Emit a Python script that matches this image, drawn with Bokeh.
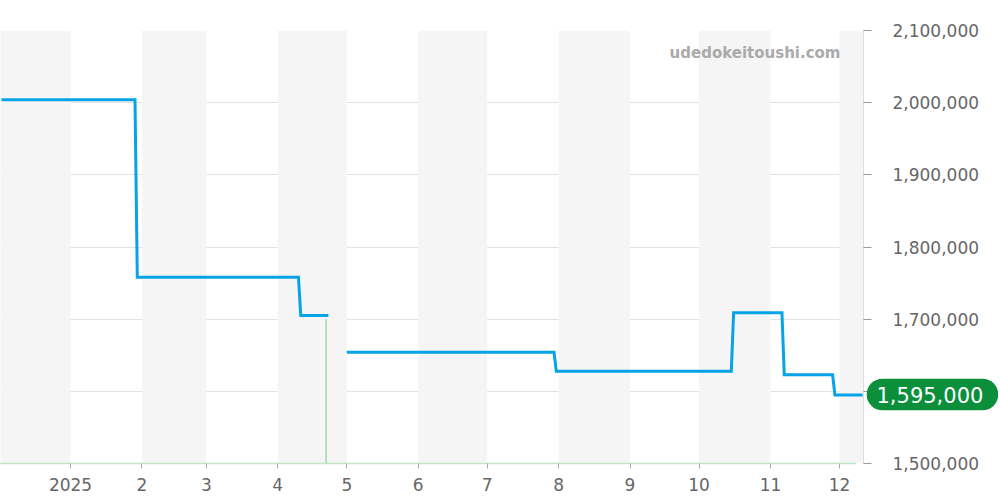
import pandas as pd
import numpy as np
from bokeh.plotting import figure
from bokeh.models import (Range1d, FixedTicker, NumeralTickFormatter, CustomJSTickFormatter,
                          BoxAnnotation, Label, LinearAxis)
from bokeh.embed import file_html
from bokeh.resources import INLINE

# ---- data ----
price_dates = ["2024-12-02", "2025-01-29", "2025-01-30", "2025-04-10", "2025-04-11", "2025-04-23",
               None,
               "2025-05-01", "2025-07-30", "2025-07-31", "2025-10-15", "2025-10-16",
               "2025-11-06", "2025-11-07", "2025-11-28", "2025-11-29", "2025-12-11"]
price_values = [2004000, 2004000, 1758000, 1758000, 1705000, 1705000,
                None,
                1654000, 1654000, 1628000, 1628000, 1709000,
                1709000, 1623000, 1623000, 1595000, 1595000]

volume_dates = ["2025-04-22"]
volume_values = [1700000]

month_ticks = ["2025-01-01", "2025-02-01", "2025-03-01", "2025-04-01", "2025-05-01", "2025-06-01",
               "2025-07-01", "2025-08-01", "2025-09-01", "2025-10-01", "2025-11-01", "2025-12-01"]
shaded_months = [("2024-12-01", "2025-01-01"), ("2025-02-01", "2025-03-01"), ("2025-04-01", "2025-05-01"),
                 ("2025-06-01", "2025-07-01"), ("2025-08-01", "2025-09-01"), ("2025-10-01", "2025-11-01"),
                 ("2025-12-01", "2026-01-01")]
y_ticks = [1500000, 1600000, 1700000, 1800000, 1900000, 2000000, 2100000]
last_price = 1595000
watermark = "udedokeitoushi.com"

x_start = pd.Timestamp("2024-12-01 14:00")
x_end = pd.Timestamp("2025-12-11 10:00")
y_start, y_end = 1500000, 2100000

def ms(d):
    return pd.Timestamp(d).value / 1e6

px = [ms(d) if d is not None else np.nan for d in price_dates]
py = [v if v is not None else np.nan for v in price_values]

FRAME_W, FRAME_H = 863, 433

p = figure(x_axis_type="datetime", y_axis_location="right",
           frame_width=FRAME_W, frame_height=FRAME_H,
           min_border_top=30, min_border_left=0, min_border_right=135, min_border_bottom=29,
           output_backend="svg", toolbar_location=None,
           x_range=Range1d(ms(x_start), ms(x_end)), y_range=Range1d(y_start, y_end))
p.outline_line_color = None
p.background_fill_color = "white"
p.border_fill_color = "white"

for a, b in shaded_months:
    p.add_layout(BoxAnnotation(left=ms(a), right=ms(b), fill_color="#f5f5f5", fill_alpha=1,
                               line_color=None, level="underlay"))

p.xgrid.grid_line_color = None
p.ygrid.grid_line_color = "#e2e2e2"
p.ygrid.grid_line_width = 1
p.ygrid.level = "underlay"

# y axis (right)
p.yaxis.ticker = FixedTicker(ticks=y_ticks)
p.yaxis.formatter = NumeralTickFormatter(format="0,0")
p.yaxis.axis_line_color = "#dddddd"
p.yaxis.major_tick_line_color = "#999999"
p.yaxis.major_tick_in = 0
p.yaxis.major_tick_out = 8
p.yaxis.minor_tick_line_color = None
p.yaxis.major_label_standoff = 21
p.yaxis.major_label_text_font = "DejaVu Sans"
p.yaxis.major_label_text_font_size = "17px"
p.yaxis.major_label_text_color = "#666666"

# x axis (bottom) - axis line drawn as light green dotted baseline
p.xaxis.ticker = FixedTicker(ticks=[ms(d) for d in month_ticks])
p.xaxis.formatter = CustomJSTickFormatter(code="""
const d = new Date(tick);
const m = d.getUTCMonth() + 1;
return m == 1 ? String(d.getUTCFullYear()) : String(m);
""")
p.xaxis.bounds = (ms(x_start), ms("2025-12-08"))
p.xaxis.axis_line_color = "#86cc92"
p.xaxis.axis_line_width = 1.5
p.xaxis.axis_line_dash = "1 1"
p.xaxis.major_tick_line_color = "#aaaaaa"
p.xaxis.major_tick_in = 0
p.xaxis.major_tick_out = 5
p.xaxis.minor_tick_line_color = None
p.xaxis.major_label_standoff = 9
p.xaxis.major_label_text_font = "DejaVu Sans"
p.xaxis.major_label_text_font_size = "17px"
p.xaxis.major_label_text_color = "#666666"

# volume-like green mark
p.segment(x0=[ms(d) for d in volume_dates], y0=[y_start] * len(volume_dates),
          x1=[ms(d) for d in volume_dates], y1=volume_values,
          line_color="#a3d7a9", line_width=1.5)

# price line
p.line(x=px, y=py, line_color="#06a3e6", line_width=3, line_join="miter")

# watermark
p.add_layout(Label(x=ms(x_end), y=y_end, x_offset=-23, y_offset=-22, text=watermark, text_align="right",
                   text_baseline="middle", text_font="DejaVu Sans", text_font_style="bold",
                   text_font_size="15px", text_color="#aaaaaa"))

# last-price badge: second right axis (placed after the main axis panel) whose single
# thick, round-capped tick points back toward the frame, forming a green pill
r = 15.8
badge = LinearAxis(ticker=FixedTicker(ticks=[last_price]),
                   formatter=NumeralTickFormatter(format="0,0"))
badge.axis_line_color = None
badge.minor_tick_line_color = None
badge.major_tick_out = 0
badge.major_tick_in = 100
badge.major_tick_line_width = 2 * r
badge.major_tick_line_cap = "round"
badge.major_tick_line_color = "#0b8f3a"
badge.major_label_standoff = -106
badge.major_label_text_font = "DejaVu Sans"
badge.major_label_text_font_size = "21px"
badge.major_label_text_color = "white"
p.add_layout(badge, "right")

open("out.html", "w").write(file_html(p, INLINE))
